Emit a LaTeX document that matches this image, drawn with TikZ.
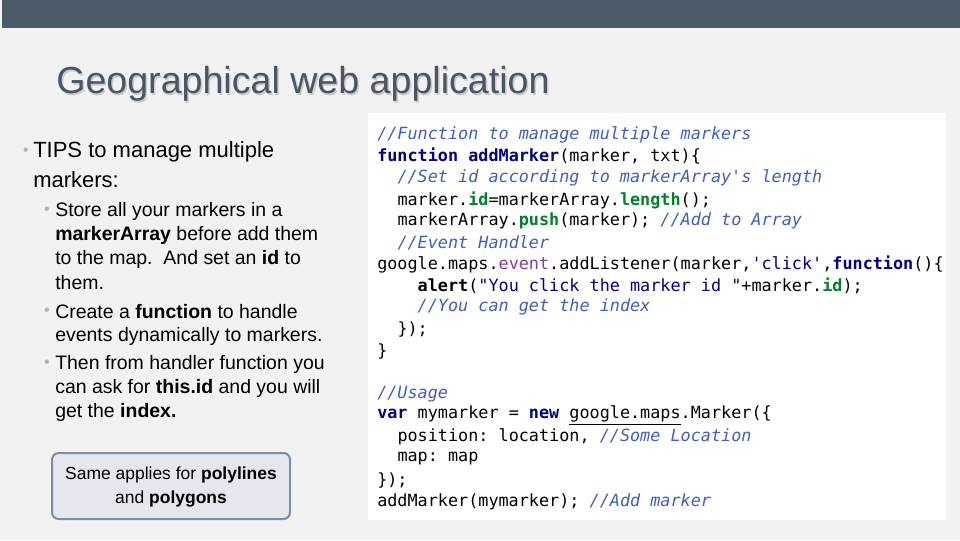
\documentclass[tikz,border=0pt]{standalone}
\usepackage{fontspec}
\setmainfont{Liberation Sans}
\setmonofont{DejaVu Sans Mono}
\definecolor{barcol}{HTML}{4D5A6A}
\definecolor{bgcol}{HTML}{F2F2F2}
\definecolor{titlecol}{HTML}{4A5566}
\definecolor{kwcol}{HTML}{000080}
\definecolor{cmcol}{HTML}{3F5FBF}
\definecolor{grcol}{HTML}{00802B}
\definecolor{evcol}{HTML}{7F3F9F}
\definecolor{boxfill}{HTML}{E4E7ED}
\definecolor{boxline}{HTML}{7F8C9C}
\newcommand{\kw}[1]{\textcolor{kwcol}{\textbf{#1}}}
\newcommand{\cm}[1]{\textcolor{cmcol}{\textit{#1}}}
\newcommand{\gr}[1]{\textcolor{grcol}{\textbf{#1}}}
\begin{document}
\begin{tikzpicture}[x=0.75pt, y=-0.75pt,
    code/.style={anchor=west, inner sep=0pt, font=\ttfamily\fontsize{12.6}{14}\selectfont},
    tips/.style={anchor=west, inner sep=0pt, font=\fontsize{16.5}{18}\selectfont},
    sub/.style={anchor=west, inner sep=0pt, font=\fontsize{14.6}{17}\selectfont},
    dot/.style={anchor=center, inner sep=0pt, text=gray!60, font=\fontsize{12}{12}\selectfont}]
    %Background
    \fill[bgcol] (0,0) rectangle (960,540);
    \useasboundingbox (0,0) rectangle (960,540);
    \fill[barcol] (2,0) rectangle (960,28);
    \node[anchor=west, inner sep=0pt, text=black!20, font=\fontsize{28.2}{30}\selectfont] at (57.5,85.5) {Geographical web application};
    \node[anchor=west, inner sep=0pt, text=titlecol, font=\fontsize{28.2}{30}\selectfont] (title) at (56,84) {Geographical web application};
    
    %Tips
    \node[dot] at (26,152) {•};
    \node[tips] (t1) at (33,152) {TIPS to manage multiple};
    \node[tips] (t2) at (33,180) {markers:};
    \node[dot] at (47,211) {•};
    \node[sub] (s1) at (55,211) {Store all your markers in a};
    \node[sub] (s2) at (55,235) {\textbf{markerArray} before add them};
    \node[sub] (s3) at (55,259) {to the map.\ \ And set an \textbf{id} to};
    \node[sub] (s4) at (55,283) {them.};
    \node[dot] at (47,312) {•};
    \node[sub] (s5) at (55,312) {Create a \textbf{function} to handle};
    \node[sub] (s6) at (55,336) {events dynamically to markers.};
    \node[dot] at (47,364) {•};
    \node[sub] (s7) at (55,364) {Then from handler function you};
    \node[sub] (s8) at (55,388) {can ask for \textbf{this.id} and you will};
    \node[sub] (s9) at (55,412) {get the \textbf{index.}};
    
    %Note box
    \draw[boxline, fill=boxfill, line width=1.5pt, rounded corners=5pt] (52,453) rectangle (290,519);
    \node[align=center, inner sep=0pt, font=\fontsize{13.1}{18.5}\selectfont] (note) at (171,487) {Same applies for \textbf{polylines}\\and \textbf{polygons}};
    
    %Code
    \fill[white] (368,113) rectangle (946,520);
    \node[code] (c1) at (377,135) {\cm{//Function to manage multiple markers}};
    \node[code] (c2) at (377,156) {\kw{function} \textbf{\textcolor{kwcol}{addMarker}}(marker, txt)\{};
    \node[code] (c3) at (377,178) {\ \ \cm{//Set id according to markerArray's length}};
    \node[code] (c4) at (377,200) {\ \ marker.\gr{id}=markerArray.\gr{length}();};
    \node[code] (c5) at (377,221) {\ \ markerArray.\gr{push}(marker); \cm{//Add to Array}};
    \node[code] (c6) at (377,243) {\ \ \cm{//Event Handler}};
    \node[code] (c7) at (377,264) {google.maps.\textcolor{evcol}{event}.addListener(marker,\textcolor{kwcol}{'click'},\kw{function}()\{};
    \node[code] (c8) at (377,286) {\ \ \ \ \textbf{alert}(\textcolor{kwcol}{"You click the marker id "}+marker.\gr{id});};
    \node[code] (c9) at (377,307) {\ \ \ \ \cm{//You can get the index}};
    \node[code] (c10) at (377,329) {\ \ \});};
    \node[code] (c11) at (377,351) {\}};
    \node[code] (c12) at (377,394) {\cm{//Usage}};
    \node[code] (c13) at (377,415) {\kw{var} mymarker = \kw{new} \underline{google.maps}.Marker(\{};
    \node[code] (c14) at (377,437) {\ \ position: location, \cm{//Some Location}};
    \node[code] (c15) at (377,459) {\ \ map: map};
    \node[code] (c16) at (377,480) {\});};
    \node[code] (c17) at (377,502) {addMarker(mymarker); \cm{//Add marker}};
\end{tikzpicture}
\end{document}
